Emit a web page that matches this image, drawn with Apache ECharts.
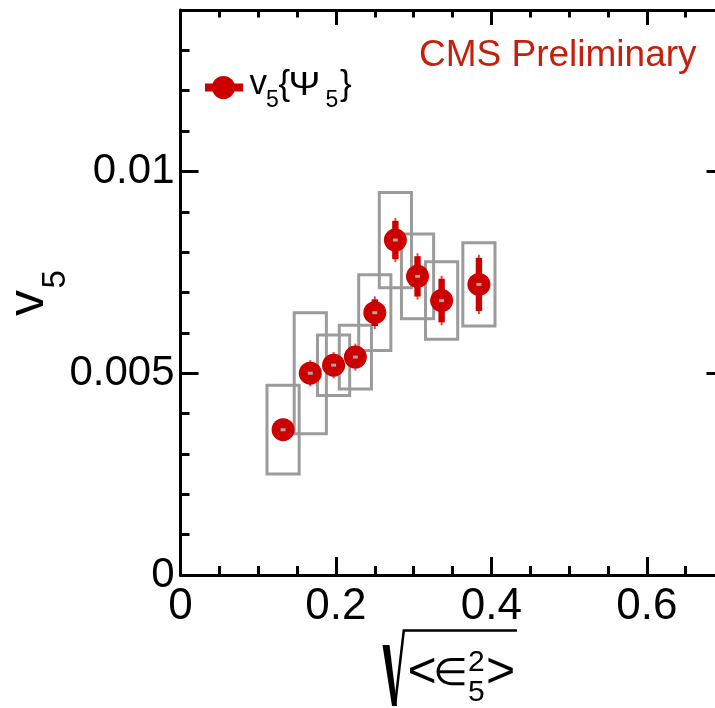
<!DOCTYPE html>
<html>
<head>
<meta charset="utf-8">
<script src="https://cdn.jsdelivr.net/npm/echarts@6/dist/echarts.min.js"></script>
<style>
  html, body { margin: 0; padding: 0; background: #fff; }
  #chart { width: 715px; height: 708px; }
</style>
</head>
<body>
<div id="chart"></div>
<script>
// sqrt(<eps_5^2>) for each centrality bin
const eccentricity = [0.132, 0.167, 0.197, 0.225, 0.250, 0.2765, 0.305, 0.336, 0.384];
// v5{Psi5} per bin
const v5 = [0.0036, 0.0050, 0.0052, 0.0054, 0.0065, 0.0083, 0.0074, 0.0068, 0.0072];
// statistical uncertainty on v5
const v5Stat = [0.0002, 0.00025, 0.00025, 0.00026, 0.00033, 0.000475, 0.0005, 0.00054, 0.00066];
// systematic uncertainty on v5
const v5Sys = [0.0011, 0.0015, 0.00075, 0.00079, 0.00094, 0.00118, 0.00105, 0.00096, 0.00103];
// systematic uncertainty on the eccentricity (box half-width)
const eccSys = [0.0207, 0.0207, 0.0207, 0.0207, 0.0207, 0.0207, 0.0207, 0.0207, 0.0207];

// axis tick labels
const xTickValues = [0, 0.2, 0.4, 0.6];
const xTickLabels = ['0', '0.2', '0.4', '0.6'];
const yTickValues = [0, 0.005, 0.01];
const yTickLabels = ['0', '0.005', '0.01'];

const RED = '#cc0000';
const GREY = '#9b9b9b';
const FONT = '"Liberation Sans", Arial, Helvetica, sans-serif';

function lookup(values, labels) {
  return function (v) {
    for (let i = 0; i < values.length; i++) {
      if (Math.abs(values[i] - v) < 1e-9) return labels[i];
    }
    return '';
  };
}

const points = eccentricity.map((x, i) => [x, v5[i], v5Stat[i], v5Sys[i], eccSys[i]]);

function axis(base, opts) {
  return Object.assign({
    type: 'value',
    splitLine: { show: false },
    axisLine: { show: false, onZero: false, lineStyle: { color: '#000', width: 3 } },
    axisTick: { show: true, inside: true, length: 18, lineStyle: { color: '#000', width: 3 } },
    axisLabel: { show: false }
  }, base, opts);
}

const xBase = { min: 0, max: 0.7 };
const yBase = { min: 0, max: 0.014 };

// place a text by its left edge and alphabetic baseline
function txt(x, baseline, text, size, extra) {
  extra = extra || {};
  const family = extra.family || FONT;
  return {
    type: 'text',
    x: x,
    y: baseline - 0.3465 * size,
    scaleX: extra.scaleX || 1,
    style: {
      text: text,
      font: size + 'px ' + family,
      fill: extra.fill || '#000',
      textAlign: 'left',
      textVerticalAlign: 'middle'
    },
    silent: true
  };
}

// rotated text (reads bottom to top); bx = baseline x, y = start of text
function vtxt(bx, y, text, size) {
  return {
    type: 'text',
    x: bx - 0.3465 * size,
    y: y,
    rotation: Math.PI / 2,
    style: {
      text: text,
      font: size + 'px ' + FONT,
      fill: '#000',
      textAlign: 'left',
      textVerticalAlign: 'middle'
    },
    silent: true
  };
}

const chart = echarts.init(document.getElementById('chart'), null, { renderer: 'canvas' });

chart.setOption({
  backgroundColor: '#fff',
  animation: false,
  grid: { left: 180.5, top: 10, right: -9.5, bottom: 133, outerBoundsMode: 'none', containLabel: false },
  xAxis: [
    axis(xBase, {
      position: 'bottom', interval: 0.2,
      axisLine: { show: true, onZero: false, lineStyle: { color: '#000', width: 3 } },
      axisLabel: {
        show: true, showMaxLabel: false, margin: 10,
        fontSize: 44, fontFamily: FONT, color: '#000',
        formatter: lookup(xTickValues, xTickLabels)
      }
    }),
    axis(xBase, { position: 'bottom', interval: 0.05,
      axisTick: { show: true, inside: true, length: 9, lineStyle: { color: '#000', width: 3 } } }),
    axis(xBase, {
      position: 'top', interval: 0.2,
      axisLine: { show: true, onZero: false, lineStyle: { color: '#000', width: 3 } },
      axisTick: { show: true, inside: true, length: 15, lineStyle: { color: '#000', width: 3 } }
    }),
    axis(xBase, { position: 'top', interval: 0.05,
      axisTick: { show: true, inside: true, length: 7.5, lineStyle: { color: '#000', width: 3 } } })
  ],
  yAxis: [
    axis(yBase, {
      position: 'left', interval: 0.005,
      axisLine: { show: true, onZero: false, lineStyle: { color: '#000', width: 3 } },
      axisLabel: {
        show: true, showMaxLabel: false, margin: 6,
        fontSize: 42, fontFamily: FONT, color: '#000',
        formatter: lookup(yTickValues, yTickLabels)
      }
    }),
    axis(yBase, { position: 'left', interval: 0.001,
      axisTick: { show: true, inside: true, length: 9, lineStyle: { color: '#000', width: 3 } } }),
    axis(yBase, {
      position: 'right', interval: 0.005,
      axisLine: { show: true, onZero: false, lineStyle: { color: '#000', width: 3 } }
    }),
    axis(yBase, { position: 'right', interval: 0.001,
      axisTick: { show: true, inside: true, length: 9, lineStyle: { color: '#000', width: 3 } } })
  ],
  series: [
    {
      // systematic uncertainty boxes
      type: 'custom', xAxisIndex: 0, yAxisIndex: 0, z: 2, silent: true,
      data: points,
      renderItem: function (params, api) {
        const x = api.value(0), y = api.value(1), dy = api.value(3), dx = api.value(4);
        const p1 = api.coord([x - dx, y + dy]);
        const p2 = api.coord([x + dx, y - dy]);
        return {
          type: 'rect',
          shape: { x: p1[0], y: p1[1], width: p2[0] - p1[0], height: p2[1] - p1[1] },
          style: { fill: 'none', stroke: GREY, lineWidth: 3 }
        };
      }
    },
    {
      // statistical error bars
      type: 'custom', xAxisIndex: 0, yAxisIndex: 0, z: 3, silent: true,
      data: points,
      renderItem: function (params, api) {
        const x = api.value(0), y = api.value(1), e = api.value(2);
        const top = api.coord([x, y + e]);
        const bot = api.coord([x, y - e]);
        return {
          type: 'group',
          children: [
            {
              type: 'line',
              shape: { x1: top[0], y1: top[1] - 3, x2: bot[0], y2: bot[1] + 3 },
              style: { stroke: '#e04a4a', lineWidth: 2 }
            },
            {
              type: 'rect',
              shape: { x: top[0] - 3.2, y: top[1], width: 6.4, height: bot[1] - top[1] },
              style: { fill: RED }
            }
          ]
        };
      }
    },
    {
      type: 'scatter', xAxisIndex: 0, yAxisIndex: 0, z: 4, silent: true,
      symbol: 'circle', symbolSize: 23,
      itemStyle: { color: RED, opacity: 1 },
      data: points.map(p => [p[0], p[1]])
    },
    {
      // small grey centre marks
      type: 'custom', xAxisIndex: 0, yAxisIndex: 0, z: 5, silent: true,
      data: points,
      renderItem: function (params, api) {
        const c = api.coord([api.value(0), api.value(1)]);
        return {
          type: 'rect',
          shape: { x: c[0] - 2.5, y: c[1] - 1.5, width: 5, height: 3 },
          style: { fill: '#a8a8a8' }
        };
      }
    }
  ],
  graphic: [
    // legend entry
    { type: 'line', shape: { x1: 205, y1: 87.5, x2: 243, y2: 87.5 }, style: { stroke: RED, lineWidth: 8 }, silent: true },
    { type: 'circle', shape: { cx: 223.5, cy: 87.5, r: 11.5 }, style: { fill: RED }, silent: true },
    txt(249.5, 96.7, 'v', 35),
    txt(266, 108.3, '5', 23),
    txt(278.5, 97, '{', 35),
    txt(288.5, 97, 'Ψ', 34, { scaleX: 1.12 }),
    txt(325.5, 108.3, '5', 23),
    txt(340, 97, '}', 35),

    // experiment label
    txt(419, 68.3, 'CMS Preliminary', 37, { fill: '#c4200e' }),

    // y axis title
    vtxt(47, 316, 'v', 52),
    vtxt(67, 288.5, '5', 33),

    // x axis title: sqrt(<eps_5^2>)
    { type: 'polygon', shape: { points: [[382.5, 645], [389.5, 645], [397, 706], [392, 706]] }, style: { fill: '#000' }, silent: true },
    { type: 'polyline', shape: { points: [[395, 705.5], [403.8, 630.5], [517, 630.5]] }, style: { stroke: '#000', lineWidth: 2.5, fill: null }, silent: true },
    txt(407.6, 690.6, '<', 50),
    txt(433, 688, '∈', 38, { family: '"DejaVu Sans", sans-serif', scaleX: 1.05 }),
    txt(468, 673.3, '2', 30),
    txt(468, 703.3, '5', 30),
    txt(486, 690.6, '>', 50)
  ]
});
</script>
</body>
</html>
